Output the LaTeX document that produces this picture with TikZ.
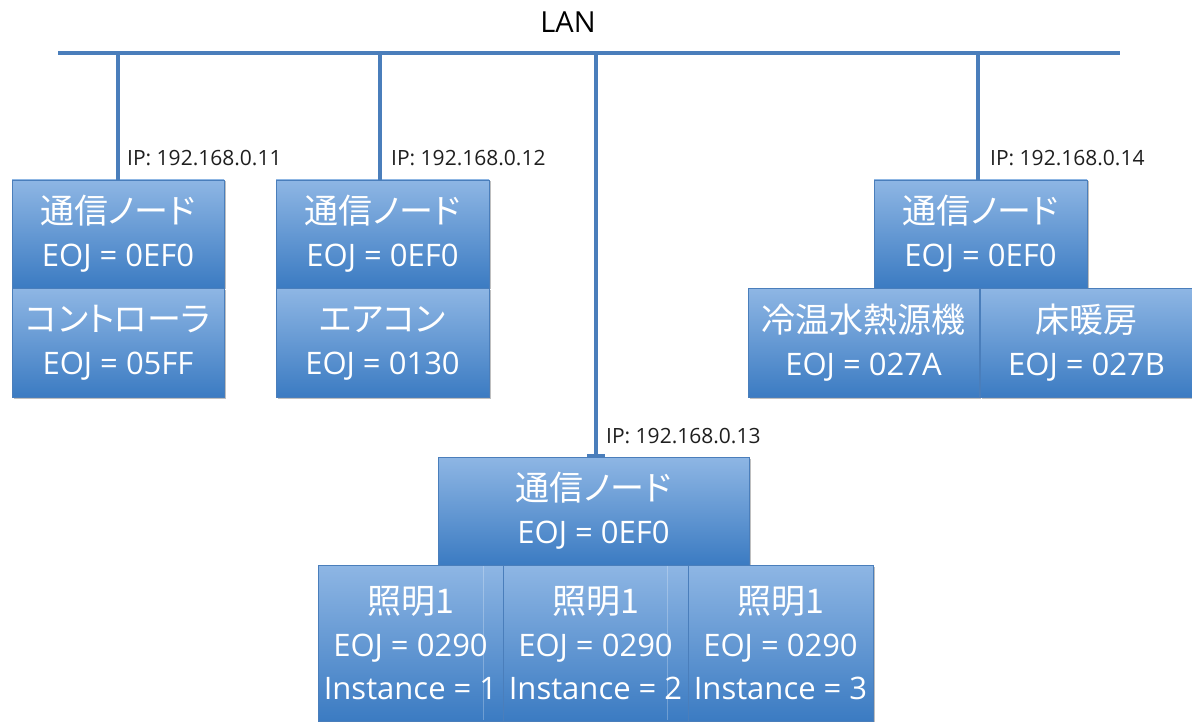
\documentclass[tikz,border=0pt]{standalone}
\usepackage{fontspec}
\setmainfont{Open Sans}
\newfontfamily\jpfam[RawFeature=+palt]{Noto Sans CJK JP}
\usetikzlibrary{shadows}
\definecolor{lanblue}{HTML}{4A7EBB}
\definecolor{boxborder}{HTML}{4A7EBB}
\definecolor{boxtop}{HTML}{8EB6E4}
\definecolor{boxmid}{HTML}{6C9CD6}
\definecolor{boxbot}{HTML}{3B7BC2}
\newcommand\jptext{\jpfam\fontsize{34}{43}\selectfont}
\begin{document}
\begin{tikzpicture}[x=1pt,y=-1pt,
  bus/.style={draw=lanblue, line width=4pt},
  stem/.style={draw=lanblue, line width=4pt},
  box/.style={draw=boxborder, line width=0.9pt, top color=boxtop, middle color=boxmid, bottom color=boxbot,
    text=white, align=center, inner sep=0pt, outer sep=0pt,
    font=\fontsize{31}{43}\selectfont,
    drop shadow={shadow xshift=1.5pt, shadow yshift=-1.5pt, opacity=0.25, fill=black}},
  iplabel/.style={anchor=base west, inner sep=0pt, text=black!88, font=\fontsize{21}{25}\selectfont},
  ghost/.style={draw=white, opacity=0.25, line width=0.8pt}
]
\useasboundingbox (0,0) rectangle (1192,722);

% LAN bus
\node[anchor=base, inner sep=0pt, font=\fontsize{29}{34}\selectfont] (lan) at (568,33) {LAN};
\coordinate (lanL) at (58,53);
\coordinate (lanR) at (1120,53);
\coordinate (t1) at (118,53);
\coordinate (t2) at (380,53);
\coordinate (t3) at (596,53);
\coordinate (t4) at (978,53);

% boxes
\node[box, minimum width=212pt, minimum height=108pt] (a1) at (118,234) {{\jptext 通信ノード}\\EOJ = 0EF0};
\node[box, minimum width=212pt, minimum height=109pt] (a2) at (118,343) {{\jptext コントローラ}\\EOJ = 05FF};
\node[box, minimum width=213pt, minimum height=108pt] (b1) at (382.5,234) {{\jptext 通信ノード}\\EOJ = 0EF0};
\node[box, minimum width=213pt, minimum height=109pt] (b2) at (382.5,343) {{\jptext エアコン}\\EOJ = 0130};
\node[box, minimum width=213pt, minimum height=108pt] (e1) at (980.5,234) {{\jptext 通信ノード}\\EOJ = 0EF0};
\node[box, minimum width=231pt, minimum height=109pt] (f1) at (863.5,343) {{\jptext 冷温水熱源機}\\EOJ = 027A};
\node[box, minimum width=213pt, minimum height=109pt] (f2) at (1086.5,343) {{\jptext 床暖房}\\EOJ = 027B};
\node[box, minimum width=311pt, minimum height=108pt] (c1) at (593.5,511) {{\jptext 通信ノード}\\EOJ = 0EF0};
\node[box, minimum width=185pt, minimum height=156pt] (d1) at (410.5,643) {{\jptext 照明1}\\EOJ = 0290\\Instance = 1};
\node[box, minimum width=185pt, minimum height=156pt] (d2) at (595.5,643) {{\jptext 照明1}\\EOJ = 0290\\Instance = 2};
\node[box, minimum width=185pt, minimum height=156pt] (d3) at (780.5,643) {{\jptext 照明1}\\EOJ = 0290\\Instance = 3};

% faint inner edges in the lower boxes
\draw[ghost] (483,566) -- (483,720);
\draw[ghost] (667,566) -- (667,720);

% connectors
\draw[stem] (t1) -- (a1.north);
\draw[stem] (t2) -- (t2 |- b1.north);
\draw[stem] (t3) -- (t3 |- c1.north);
\draw[stem] (t4) -- (t4 |- e1.north);
\coordinate (t3e) at ([yshift=1.5pt]t3 |- c1.north);
\draw[lanblue, line width=3pt] ([xshift=-9pt]t3e) -- ([xshift=9pt]t3e);
\draw[bus] (lanL) -- (lanR);

% IP labels
\node[iplabel] (ip1) at (127,166) {IP: 192.168.0.11};
\node[iplabel] (ip2) at (391,166) {IP: 192.168.0.12};
\node[iplabel] (ip3) at (606,443) {IP: 192.168.0.13};
\node[iplabel] (ip4) at (990,166) {IP: 192.168.0.14};
\end{tikzpicture}
\end{document}
